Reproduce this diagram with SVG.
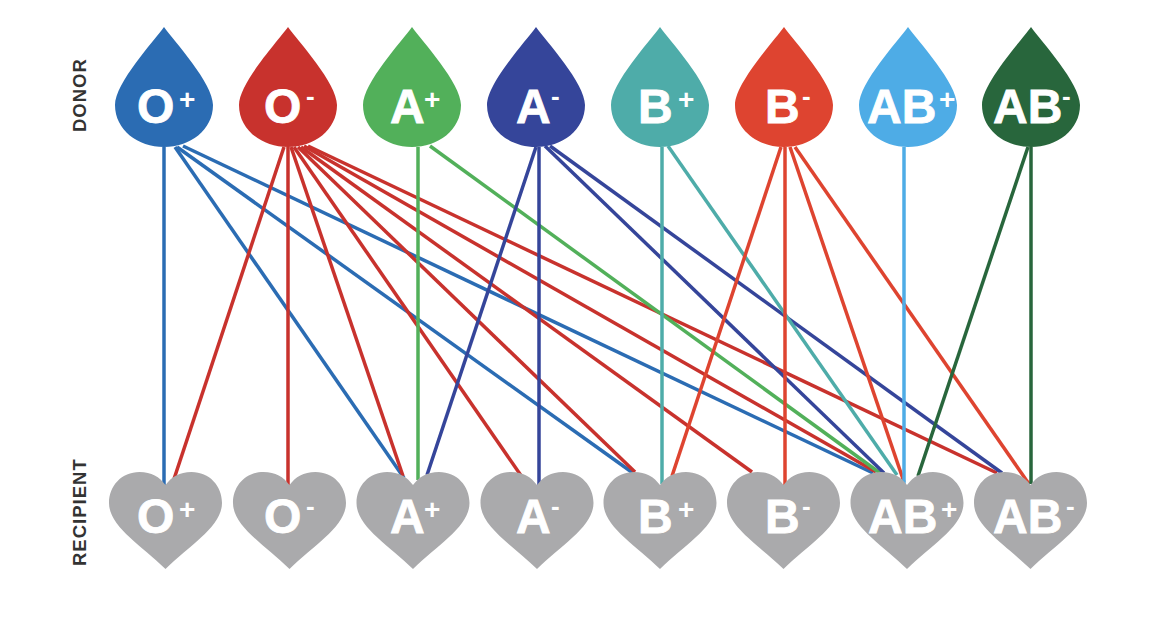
<svg xmlns="http://www.w3.org/2000/svg" xmlns:xlink="http://www.w3.org/1999/xlink" width="1170" height="621" viewBox="0 0 1170 621">
<style>
text{font-family:"Liberation Sans",Arial,sans-serif;font-weight:700}
.t{font-size:48px;fill:#fff;stroke:#fff;stroke-width:.8px}
.s{font-size:28px;fill:#fff}
.m{font-size:26px;fill:#fff}
.axis{font-size:18.5px;fill:#333;letter-spacing:1px}
.h{fill:#aaaaac}
#connectors line{stroke-width:3.500;fill:none}
.c1{stroke:#2b6cb3}.c2{stroke:#c8322d}.c3{stroke:#52b05a}.c4{stroke:#35459a}.c5{stroke:#4eaca9}.c6{stroke:#de4430}.c7{stroke:#4eace6}.c8{stroke:#28663c}
</style>
<defs>
<path id="drop" d="M0 0C-10 14-49 56-49 78C-49 103-26 120 0 120C26 120 49 103 49 78C49 56 10 14 0 0Z"/>
<path id="heart" d="M0 13C-6 5-14 0-26 0C-44 0-56.500 14-56.500 31C-56.500 54-26 72 0 97C26 72 56.500 54 56.500 31C56.500 14 44 0 26 0C14 0 6 5 0 13Z"/>
</defs>
<rect width="1170" height="621" fill="#fff"/>
<text class="axis" transform="translate(86 132) rotate(-90)">DONOR</text>
<text class="axis" transform="translate(86 566) rotate(-90)">RECIPIENT</text>
<g id="connectors">
<g>
<line class="c1" x1="164" y1="147" x2="164" y2="485"/>
<line class="c1" x1="175" y1="147" x2="404" y2="478"/>
<line class="c1" x1="177" y1="147" x2="633" y2="473"/>
<line class="c1" x1="183" y1="146" x2="873" y2="473"/>
</g>
<g>
<line class="c2" x1="284" y1="147" x2="173" y2="482"/>
<line class="c2" x1="288" y1="147" x2="288" y2="485"/>
<line class="c2" x1="291" y1="147" x2="403" y2="476"/>
<line class="c2" x1="294" y1="147" x2="522" y2="477"/>
<line class="c2" x1="298" y1="147" x2="635" y2="472"/>
<line class="c2" x1="301" y1="147" x2="752" y2="472"/>
<line class="c2" x1="304" y1="146" x2="876" y2="472"/>
<line class="c2" x1="308" y1="146" x2="997" y2="473"/>
</g>
<g>
<line class="c3" x1="418" y1="147" x2="418" y2="480"/>
<line class="c3" x1="430" y1="146" x2="880" y2="473"/>
</g>
<g>
<line class="c4" x1="536" y1="147" x2="427" y2="475"/>
<line class="c4" x1="539" y1="147" x2="539" y2="485"/>
<line class="c4" x1="545" y1="146" x2="884" y2="473"/>
<line class="c4" x1="550" y1="146" x2="1002" y2="473"/>
</g>
<g>
<line class="c5" x1="662" y1="147" x2="662" y2="484"/>
<line class="c5" x1="668" y1="146" x2="897" y2="475"/>
</g>
<g>
<line class="c6" x1="781" y1="147" x2="672" y2="476"/>
<line class="c6" x1="785" y1="147" x2="785" y2="485"/>
<line class="c6" x1="790" y1="147" x2="904" y2="482"/>
<line class="c6" x1="795" y1="147" x2="1029" y2="484"/>
</g>
<g>
<line class="c7" x1="904" y1="147" x2="904" y2="484"/>
</g>
<g>
<line class="c8" x1="1028" y1="147" x2="918" y2="476"/>
<line class="c8" x1="1031" y1="147" x2="1031" y2="484"/>
</g>
</g>
<g id="donor-o-pos"><use href="#drop" x="164" y="27" fill="#2b6cb3"/><text class="t" x="137" y="123">O</text><text class="s" x="179" y="109">+</text></g>
<g id="donor-o-neg"><use href="#drop" x="288" y="27" fill="#c8322d"/><text class="t" x="264" y="123">O</text><text class="m" x="306" y="105">-</text></g>
<g id="donor-a-pos"><use href="#drop" x="412" y="27" fill="#52b05a"/><text class="t" x="390" y="123">A</text><text class="s" x="424" y="109">+</text></g>
<g id="donor-a-neg"><use href="#drop" x="536" y="27" fill="#35459a"/><text class="t" x="516" y="123">A</text><text class="m" x="551" y="105">-</text></g>
<g id="donor-b-pos"><use href="#drop" x="660" y="27" fill="#4eaca9"/><text class="t" x="638" y="123">B</text><text class="s" x="678" y="109">+</text></g>
<g id="donor-b-neg"><use href="#drop" x="784" y="27" fill="#de4430"/><text class="t" x="765" y="123">B</text><text class="m" x="802" y="105">-</text></g>
<g id="donor-ab-pos"><use href="#drop" x="908" y="27" fill="#4eace6"/><text class="t" x="867" y="123">AB</text><text class="s" x="939" y="109">+</text></g>
<g id="donor-ab-neg"><use href="#drop" x="1031" y="27" fill="#28663c"/><text class="t" x="993" y="123">AB</text><text class="m" x="1062" y="105">-</text></g>
<g id="recipient-o-pos"><use href="#heart" class="h" x="165.500" y="472"/><text class="t" x="137" y="533">O</text><text class="s" x="179" y="519">+</text></g>
<g id="recipient-o-neg"><use href="#heart" class="h" x="289.500" y="472"/><text class="t" x="264" y="533">O</text><text class="m" x="306" y="515">-</text></g>
<g id="recipient-a-pos"><use href="#heart" class="h" x="413" y="472"/><text class="t" x="390" y="533">A</text><text class="s" x="424" y="519">+</text></g>
<g id="recipient-a-neg"><use href="#heart" class="h" x="537" y="472"/><text class="t" x="516" y="533">A</text><text class="m" x="551" y="515">-</text></g>
<g id="recipient-b-pos"><use href="#heart" class="h" x="660" y="472"/><text class="t" x="638" y="533">B</text><text class="s" x="678" y="519">+</text></g>
<g id="recipient-b-neg"><use href="#heart" class="h" x="783.500" y="472"/><text class="t" x="765" y="533">B</text><text class="m" x="802" y="515">-</text></g>
<g id="recipient-ab-pos"><use href="#heart" class="h" x="907" y="472"/><text class="t" x="868" y="533">AB</text><text class="s" x="941" y="519">+</text></g>
<g id="recipient-ab-neg"><use href="#heart" class="h" x="1030.500" y="472"/><text class="t" x="993" y="533">AB</text><text class="m" x="1066" y="515">-</text></g>
</svg>
